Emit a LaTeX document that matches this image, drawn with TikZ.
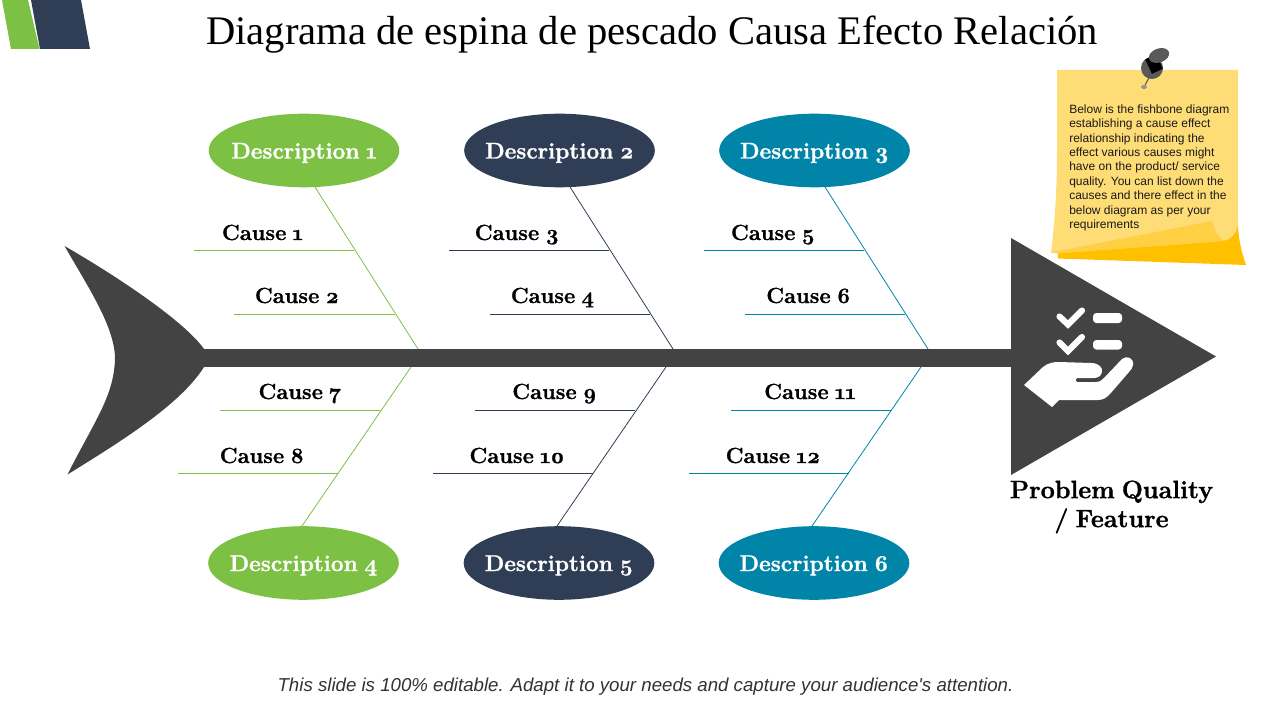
\documentclass[tikz,border=0pt]{standalone}
\usepackage{fontspec}
\setmainfont{Liberation Serif}
\newfontfamily\labfont[Numbers=OldStyle,WordSpace=0.75,BoldFeatures={FakeBold=1.2}]{Latin Modern Roman}
\newfontfamily\notefont{Liberation Sans}
\definecolor{cgreen}{HTML}{7DC144}
\definecolor{cnavy}{HTML}{2F3E54}
\definecolor{cteal}{HTML}{0085A8}
\definecolor{cdark}{HTML}{434343}
\definecolor{noteA}{HTML}{FFDD76}
\definecolor{noteB}{HTML}{FFD043}
\definecolor{noteC}{HTML}{FFC000}
\newcommand{\desctext}[1]{\makebox[0pt]{\raisebox{-6pt}[0pt][0pt]{#1}}}
\tikzset{
  desc/.style={ellipse,fill=#1,minimum width=143pt,minimum height=55.2pt,inner sep=0pt,text=white,font=\labfont\fontsize{17}{20}\bfseries\selectfont},
  causetxt/.style={inner sep=0pt,text height=11pt,text depth=0.5pt,font=\labfont\fontsize{16.4}{19}\bfseries\selectfont},
  bone/.style={#1,line width=0.6pt},
  twig/.style={#1,line width=0.75pt},
}
\usetikzlibrary{shapes.geometric}
\begin{document}
\begin{tikzpicture}[x=0.75pt,y=-0.75pt]
\useasboundingbox (0,0) rectangle (1280,720);
% corner bars
\fill[cgreen] (2,0) -- (28,0) -- (39.5,49) -- (11,49) -- cycle;
\fill[cnavy] (31,0) -- (81,0) -- (90,49) -- (40,49) -- cycle;
% title and footer
\node[inner sep=0pt,font=\fontsize{30.45}{36}\selectfont] (title) at (652,34.5) {Diagrama de espina de pescado Causa Efecto Relación};
\node[inner sep=0pt,font=\notefont\fontsize{14}{16}\itshape\selectfont,text=black!80] (foot) at (645.5,687) {This slide is 100\% editable. Adapt it to your needs and capture your audience's attention.};
% ellipses
\node[desc=cgreen] (d1) at (304,150.5) {\desctext{Description 1}};
\node[desc=cnavy] (d2) at (559.5,150.5) {\desctext{Description 2}};
\node[desc=cteal] (d3) at (814.5,150.5) {\desctext{Description 3}};
\node[desc=cgreen] (d4) at (303.5,563) {\desctext{Description 4}};
\node[desc=cnavy] (d5) at (559,563) {\desctext{Description 5}};
\node[desc=cteal] (d6) at (814,563) {\desctext{Description 6}};
% bones: anchor coordinates
\foreach \n/\dx in {1/0,2/255,3/510}{
  \coordinate (t\n s) at (315+\dx,187);
  \coordinate (t\n e) at (418+\dx,349);
  \coordinate (b\n s) at (302+\dx,526);
  \coordinate (b\n e) at (411+\dx,367);
}
\draw[bone=cgreen] (t1s) -- (t1e);
\draw[bone=cnavy] (t2s) -- (t2e);
\draw[bone=cteal] (t3s) -- (t3e);
\draw[bone=cgreen] (b1s) -- (b1e);
\draw[bone=cnavy] (b2s) -- (b2e);
\draw[bone=cteal] (b3s) -- (b3e);
% cause labels and twigs
\node[causetxt] (c1) at (262.5,233) {Cause 1};
\node[causetxt] (c2) at (297,296) {Cause 2};
\node[causetxt] (c3) at (517,233) {Cause 3};
\node[causetxt] (c4) at (552.5,296) {Cause 4};
\node[causetxt] (c5) at (773,233) {Cause 5};
\node[causetxt] (c6) at (808.5,296) {Cause 6};
\node[causetxt] (c7) at (300,392) {Cause 7};
\node[causetxt] (c8) at (262,456) {Cause 8};
\node[causetxt] (c9) at (554.5,392) {Cause 9};
\node[causetxt] (c10) at (517,456) {Cause 10};
\node[causetxt] (c11) at (810,392) {Cause 11};
\node[causetxt] (c12) at (773,456) {Cause 12};
\foreach \c/\col/\xa/\xb/\yy in {1/cgreen/194/354/250.5,2/cgreen/234/395/314.5,3/cnavy/449/609/250.5,4/cnavy/490/650/314.5,5/cteal/704/864/250.5,6/cteal/745/905/314.5,7/cgreen/220/380/410.5,8/cgreen/178/338/473.5,9/cnavy/475/635/410.5,10/cnavy/433/593/473.5,11/cteal/731/891/410.5,12/cteal/689/849/473.5}{
  \coordinate (w\c a) at (\xa,\yy);
  \coordinate (w\c b) at (\xb,\yy);
  \draw[twig=\col] (w\c a) -- (w\c b);
}
% spine, tail, head
\fill[cdark] (200,349) rectangle (1013,367);
\fill[cdark] (64.5,246) .. controls (120,278) and (185,322) .. (204,349) -- (204,367)
  .. controls (180,405) and (120,442) .. (67.5,474.5)
  .. controls (95,420) and (115,395) .. (115,356)
  .. controls (113,325) and (90,290) .. (64.5,246) -- cycle;
\fill[cdark] (1011,238) -- (1216,356.5) -- (1011,475) -- cycle;
% icon
\draw[white,line width=4.6pt,line cap=round,line join=miter] (1059.5,316.5) -- (1068,324.5) -- (1082,310.5);
\draw[white,line width=4.6pt,line cap=round,line join=miter] (1059.5,342.5) -- (1068,351) -- (1082,337);
\fill[white,rounded corners=2.5pt] (1093,313) rectangle (1122,323);
\fill[white,rounded corners=2.5pt] (1093,340) rectangle (1122,349.5);
\fill[white] (1024,385) -- (1043,367) .. controls (1048,363) and (1053,362) .. (1059,362)
  -- (1091,363) .. controls (1099,363) and (1103,368) .. (1102,372)
  .. controls (1101,376) and (1098,378) .. (1094,378) -- (1077,378)
  .. controls (1075,379) and (1075,381) .. (1077,382) -- (1096,382)
  .. controls (1100,382) and (1102,380) .. (1104,378) -- (1122,359)
  .. controls (1127,355) and (1134,358) .. (1133,365)
  .. controls (1133,367) and (1131,370) .. (1129,372) -- (1110,394)
  .. controls (1106,398) and (1103,400) .. (1098,400) -- (1059,400) -- (1052,407) -- cycle;
% sticky note
\fill[noteC] (1058,250) -- (1058,258.5) -- (1246,265) .. controls (1241,250) and (1238,238) .. (1238,222) -- cycle;
\fill[noteA] (1057,70) -- (1238,70) -- (1238,222) .. controls (1238,232) and (1232,240) .. (1222,241)
  -- (1058,253) -- (1051,252.5) .. controls (1055,220) and (1057,190) .. (1057,150) -- cycle;
\fill[noteB] (1051,252.5) -- (1212,221) .. controls (1214,230) and (1219,238) .. (1225,241) -- (1058,253.5) -- cycle;
\node[inner sep=0pt,anchor=north west,align=left,text=black!90,font=\notefont\fontsize{9}{10.8}\selectfont] (note) at (1069,104.3) {Below is the fishbone diagram\\establishing a cause effect\\relationship indicating the\\effect various causes might\\have on the product/ service\\quality. You can list down the\\causes and there effect in the\\below diagram as per your\\requirements};
% pin
\draw[gray!70!black,line width=0.8pt] (1150,76) -- (1144,87);
\fill[gray!60!black!60] (1144,87) circle[x radius=3,y radius=2];
\fill[black!65] (1152,68) circle[radius=11];
\fill[black,rotate around={25:(1154,64)}] (1148,56) rectangle (1160,72);
\fill[black!65,rotate around={20:(1159,55.5)}] (1159,55.5) ellipse[x radius=10.5,y radius=7];
% result label
\node[inner sep=0pt,align=center,font=\labfont\fontsize{18.8}{21.75}\bfseries\selectfont] (prob) at (1111.5,507) {Problem Quality\\/ Feature};
\end{tikzpicture}
\end{document}
